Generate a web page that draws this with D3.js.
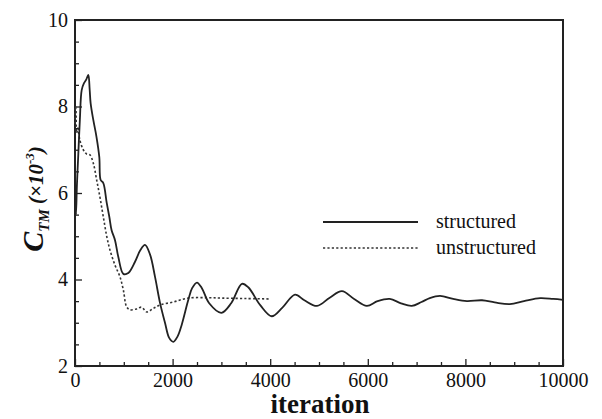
<!DOCTYPE html>
<html>
<head>
<meta charset="utf-8">
<script src="https://cdn.jsdelivr.net/npm/d3@7"></script>
<style>
  html, body { margin: 0; padding: 0; background: #fff; }
  svg { display: block; }
  svg text { font-family: "Liberation Serif", "Times New Roman", serif !important; fill: #111; }
</style>
</head>
<body>
<svg id="chart" width="602" height="419"></svg>
<script>
// ---- data ----
const structuredIter = [0,10,20,40,68,100,137,184,230,273,300,320,375,440,498,526,580,650,703,750,820,888,990,1093,1230,1340,1434,1537,1640,1742,1844,1930,2015,2100,2186,2322,2400,2500,2600,2750,3000,3200,3420,3550,3800,4030,4250,4508,4700,4960,5220,5470,5720,5980,6200,6450,6680,6900,7100,7270,7480,7750,8030,8340,8600,8910,9200,9530,9800,10000];
const structuredCTM = [5.45,5.9,5.5,6.2,6.9,7.7,8.38,8.54,8.62,8.73,8.4,8.08,7.69,7.3,6.83,6.3,6.23,5.77,5.45,5.14,4.91,4.52,4.13,4.15,4.41,4.68,4.8,4.58,4.06,3.46,3.0,2.65,2.56,2.68,2.95,3.53,3.8,3.93,3.8,3.45,3.23,3.45,3.9,3.82,3.4,3.15,3.35,3.65,3.52,3.39,3.58,3.73,3.55,3.39,3.5,3.55,3.45,3.39,3.48,3.57,3.62,3.55,3.5,3.52,3.47,3.43,3.5,3.57,3.55,3.53];
const unstructuredIter = [0,10,20,34,60,100,170,240,307,375,444,512,580,650,717,820,922,990,1058,1127,1264,1366,1469,1605,1742,2015,2322,2700,3000,3500,4000];
const unstructuredCTM = [7.6,8.0,7.92,7.39,7.5,7.22,7.0,6.9,6.88,6.69,6.3,5.9,5.45,5.0,4.68,4.33,4.06,3.76,3.37,3.3,3.32,3.36,3.25,3.33,3.41,3.48,3.57,3.58,3.57,3.56,3.55];
const xTicks = [0,2000,4000,6000,8000,10000];
const yTicks = [2,4,6,8,10];
const seriesNames = ["structured","unstructured"];

// ---- layout ----
const FONT = "'Liberation Serif', 'Times New Roman', serif";
const svg = d3.select("#chart");
const L = 75, R = 563, T = 20, B = 366;
const x = d3.scaleLinear().domain([0,10000]).range([L,R]);
const y = d3.scaleLinear().domain([2,10]).range([B,T]);

const xMinor = d3.range(0,10001,500).filter(v => v % 2000 !== 0);
const yMinor = d3.range(2,10.01,0.5).filter(v => v % 2 !== 0);

const gx = svg.append("g").attr("transform",`translate(0,${B})`)
  .call(d3.axisBottom(x).tickValues(xTicks).tickSize(-7).tickPadding(7).tickFormat(d3.format("d")));
const gxm = svg.append("g").attr("transform",`translate(0,${B})`)
  .call(d3.axisBottom(x).tickValues(xMinor).tickSize(-4).tickFormat(""));
const gy = svg.append("g").attr("transform",`translate(${L},0)`)
  .call(d3.axisLeft(y).tickValues(yTicks).tickSize(-7).tickPadding(7).tickFormat(d3.format("d")));
const gym = svg.append("g").attr("transform",`translate(${L},0)`)
  .call(d3.axisLeft(y).tickValues(yMinor).tickSize(-4).tickFormat(""));

[gx,gxm,gy,gym].forEach(g => {
  g.attr("font-family", FONT).attr("font-size", 20);
  g.select(".domain").remove();
  g.selectAll("line").attr("stroke","#222").attr("stroke-width",1.3);
  g.selectAll("text").attr("font-size",20).attr("font-family",FONT).attr("fill","#111");
});

// frame
svg.append("rect").attr("x",L).attr("y",T).attr("width",R-L).attr("height",B-T)
  .attr("fill","none").attr("stroke","#222").attr("stroke-width",2);

// lines
const line = d3.line().x(d => x(d[0])).y(d => y(d[1])).curve(d3.curveCatmullRom.alpha(0.5));
const sData = structuredIter.map((v,i) => [v, structuredCTM[i]]);
const uData = unstructuredIter.map((v,i) => [v, unstructuredCTM[i]]);

svg.append("path").datum(uData).attr("d", line)
  .attr("fill","none").attr("stroke","#333").attr("stroke-width",1.6).attr("stroke-dasharray","2.2,2.2");
svg.append("path").datum(sData).attr("d", line)
  .attr("fill","none").attr("stroke","#222").attr("stroke-width",1.8);

// legend
const legY = [222, 248];
svg.append("line").attr("x1",323).attr("x2",418).attr("y1",legY[0]).attr("y2",legY[0])
  .attr("stroke","#222").attr("stroke-width",1.8);
svg.append("line").attr("x1",323).attr("x2",418).attr("y1",legY[1]).attr("y2",legY[1])
  .attr("stroke","#333").attr("stroke-width",1.6).attr("stroke-dasharray","2.2,2.2");
seriesNames.forEach((n,i) => {
  svg.append("text").attr("x",436).attr("y",legY[i]+6).attr("font-size",20).attr("font-family",FONT).text(n);
});

// axis titles
svg.append("text").attr("x",320).attr("y",413).attr("text-anchor","middle")
  .attr("font-size",27).attr("font-weight","bold").attr("font-family",FONT).text("iteration");

const yt = svg.append("text").attr("transform","translate(43,199) rotate(-90)")
  .attr("text-anchor","middle").attr("font-weight","bold").attr("font-style","italic").attr("font-family",FONT);
yt.append("tspan").attr("font-size",30).text("C");
yt.append("tspan").attr("font-size",15).attr("dy",6).text("TM");
yt.append("tspan").attr("font-size",21).attr("dy",-6).text(" (×10");
yt.append("tspan").attr("font-size",13).attr("dy",-9).text("-3");
yt.append("tspan").attr("font-size",21).attr("dy",9).text(")");
</script>
</body>
</html>
